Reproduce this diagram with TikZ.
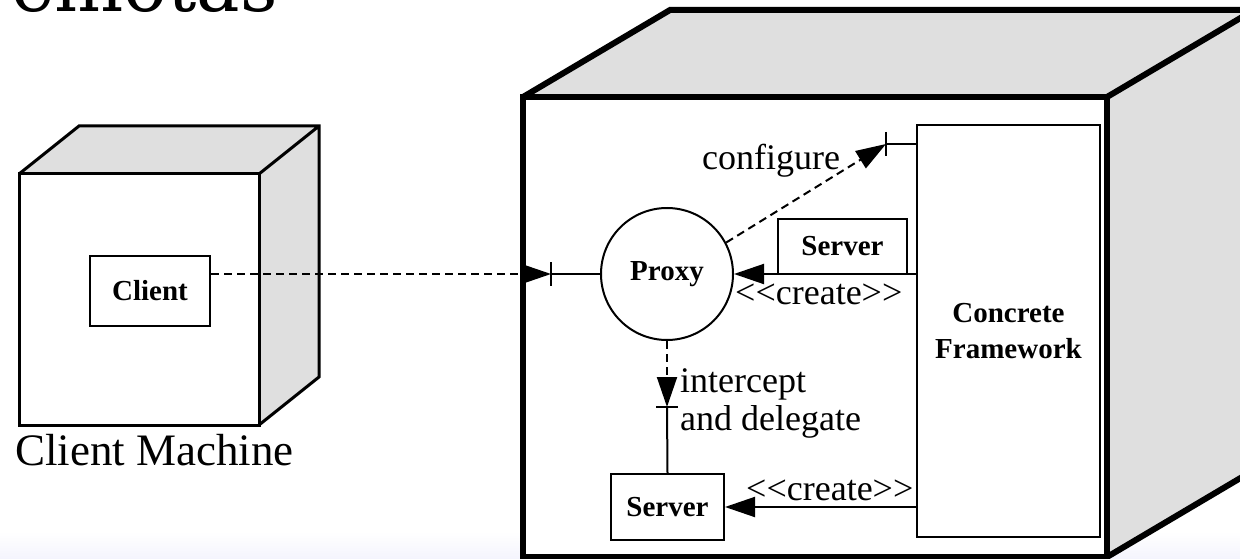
\documentclass[tikz,border=0pt]{standalone}
\usepackage{fontspec}
\setmainfont{Liberation Serif}
\newfontfamily\titlefont{DejaVu Serif}
\usetikzlibrary{arrows.meta}
\definecolor{sidegray}{RGB}{223,223,223}
\definecolor{lavender}{RGB}{244,244,253}
% stereotype brackets without the << >> ligature
\newcommand\stereo[1]{<\kern0pt<#1>\kern0pt>}
\begin{document}
\begin{tikzpicture}[x=1pt,y=-1pt,line join=miter,
  comp/.style={draw,line width=2pt,fill=white,inner sep=0pt,align=center,
    font=\bfseries\fontsize{29}{36}\selectfont},
  link/.style={line width=2pt},
  dlink/.style={line width=2pt,dash pattern=on 8pt off 5pt},
  tip/.style={-{Triangle[length=30pt,width=20pt]}},
  lbl/.style={inner sep=0pt,font=\fontsize{36}{40}\selectfont},
  sideface/.style={fill=sidegray}]
\useasboundingbox (0,0) rectangle (1240,559);
\begin{scope}
\clip (0,0) rectangle (1240,559);

% soft band along the bottom
\foreach \i in {0,...,27}{
  \pgfmathsetmacro\p{100*\i/27}
  \fill[lavender!\p!white] (0,532+\i) rectangle (1240,533.5+\i);
}

% heading, cut by the top edge
\node[anchor=base east,inner sep=0pt,font=\titlefont\fontsize{73}{80}\selectfont]
  (title) at (278,12) {remotas};

% client machine cube
\fill[sideface] (19,174) -- (79,126) -- (319,126) -- (319,377) -- (259,425) -- (259,174) -- cycle;
\draw[line width=3pt,fill=white] (19,174) rectangle (259,425);
\draw[line width=3pt] (19,174) -- (79,126) -- (319,126) -- (319,377) -- (259,425)
  (259,174) -- (319,126);
\node[anchor=base west,inner sep=0pt,font=\fontsize{45}{50}\selectfont]
  (cmlabel) at (15,465) {Client Machine};

% server machine cube
\fill[sideface] (523,97) -- (670,10) -- (1254,10) -- (1254,470) -- (1107,557) -- (1107,97) -- cycle;
\draw[line width=6pt,fill=white] (523,97) rectangle (1107,557);
\draw[line width=6pt] (523,97) -- (670,10) -- (1254,10) -- (1254,470) -- (1107,557)
  (1107,97) -- (1254,10);

% components
\node[comp,minimum width=120pt,minimum height=70pt] (client) at (150,291) {Client};
\node[comp,minimum width=129pt,minimum height=55pt] (srv1) at (842.5,246.5) {Server};
\node[comp,minimum width=113pt,minimum height=66pt] (srv2) at (667.5,507) {Server};
\node[comp,minimum width=183pt,minimum height=412pt] (cf) at (1008.5,331) {Concrete\\Framework};
\node[draw,circle,line width=2pt,fill=white,minimum size=132pt,inner sep=0pt,
  font=\bfseries\fontsize{29}{36}\selectfont] (proxy) at (667,274) {Proxy};

% interface points
\coordinate (pin) at (551,274);
\coordinate (pcf) at (886,144);
\coordinate (pint) at (667,407);

% client to proxy
\draw[dlink,tip] (client.east |- pin) -- (pin);
\draw[link] ([yshift=12pt]pin) -- ([yshift=-12pt]pin);
\draw[link] (pin) -- (proxy.west);

% configure
\draw[dlink,tip] (proxy.28) -- (pcf);
\draw[link] ([yshift=12pt]pcf) -- ([yshift=-12pt]pcf);
\draw[link] (pcf) -- (cf.west |- pcf);
\node[lbl,anchor=base west] (lconf) at (702,170) {configure};

% intercept and delegate
\draw[dlink,tip] (proxy.south) -- (pint);
\draw[link] ([xshift=-11pt]pint) -- ([xshift=11pt]pint);
\draw[link] (pint) -- (srv2.north);
\node[lbl,anchor=base west] (lint1) at (680,392) {intercept};
\node[lbl,anchor=base west] (lint2) at (680,430) {and delegate};

% creation
\draw[link,tip] (cf.west |- proxy) -- (proxy.east);
\node[lbl,anchor=base west] (lcr1) at (735,304) {\stereo{create}};
\draw[link,tip] (cf.west |- srv2) -- (srv2.east);
\node[lbl,anchor=base west] (lcr2) at (746,500) {\stereo{create}};
\end{scope}
\end{tikzpicture}
\end{document}
